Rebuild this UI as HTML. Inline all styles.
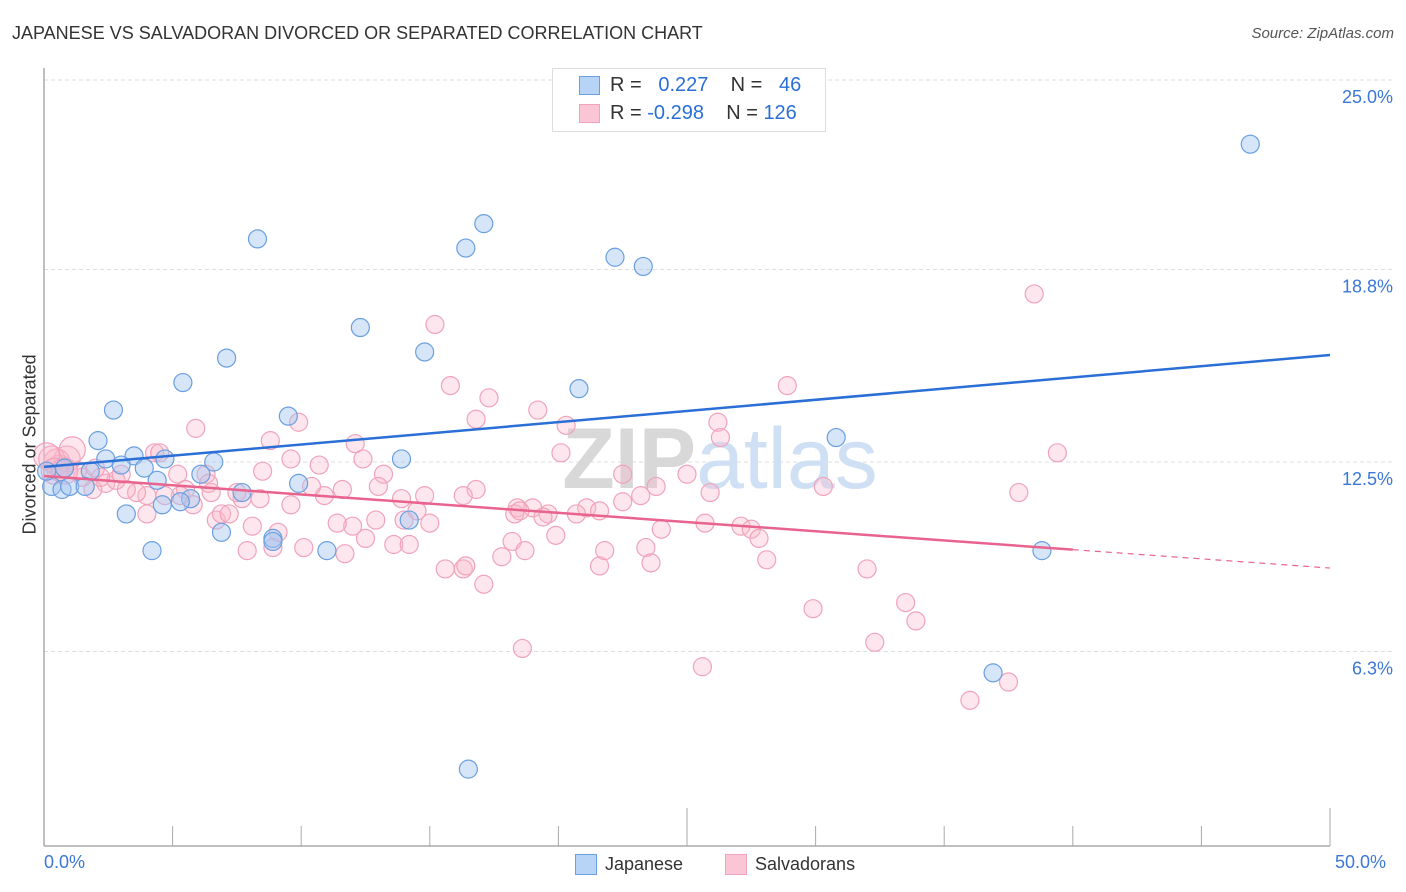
<!DOCTYPE html>
<html><head><meta charset="utf-8">
<style>
body{margin:0;background:#fff;font-family:"Liberation Sans",sans-serif;}
#wrap{position:relative;width:1406px;height:892px;overflow:hidden;}
.t{position:absolute;white-space:nowrap;}
</style></head>
<body>
<div id="wrap">
<div class="t" style="left:12px;top:23px;font-size:18px;color:#333;">JAPANESE VS SALVADORAN DIVORCED OR SEPARATED CORRELATION CHART</div>
<div class="t" style="right:12px;top:25px;font-size:15px;color:#555;font-style:italic;">Source: ZipAtlas.com</div>
<svg id="chart" width="1406" height="892" style="position:absolute;left:0;top:0"></svg>
</div>
<script>
const jpX=[8.3,16.4,17.1,22.2,23.3,46.9,12.3,14.8,7.1,5.4,20.8,2.7,9.5,2.1,30.8,3.5,4.7,2.4,13.9,6.6,3.0,3.9,6.1,0.8,1.8,4.4,0.3,0.7,1.0,1.6,9.9,7.7,5.7,5.3,4.6,3.2,14.2,6.9,8.9,8.9,11.0,4.2,38.8,36.9,16.5,0.1];
const jpY=[19.8,19.5,20.3,19.2,18.9,22.9,16.9,16.1,15.9,15.1,14.9,14.2,14.0,13.2,13.3,12.7,12.6,12.6,12.6,12.5,12.4,12.3,12.1,12.3,12.2,11.9,11.7,11.6,11.7,11.7,11.8,11.5,11.3,11.2,11.1,10.8,10.6,10.2,10.0,9.9,9.6,9.6,9.6,5.6,2.45,12.2];
const svX=[38.5,15.2,15.8,17.3,28.9,19.2,16.8,20.3,5.9,9.9,26.2,26.3,8.8,12.1,39.4,20.1,12.4,10.7,9.6,13.2,5.2,8.5,6.3,25.0,22.5,23.8,23.2,16.8,16.3,14.8,13.9,13.0,11.6,10.9,10.4,30.3,25.9,37.9,22.5,21.1,21.6,18.4,19.0,19.6,18.3,19.4,20.7,18.5,14.5,14.0,15.0,12.9,12.0,11.4,9.6,8.4,7.7,6.5,6.4,7.5,5.5,5.3,4.7,4.0,3.6,3.2,2.4,1.9,1.5,1.3,0.9,0.6,0.5,0.3,0.1,2.8,4.0,6.7,6.9,7.2,8.1,9.1,10.1,7.9,8.9,11.7,12.5,13.6,14.2,15.6,16.3,16.4,17.1,17.8,18.2,18.7,19.9,21.6,21.8,23.4,23.6,24.0,25.7,27.1,27.5,27.8,28.1,32.0,29.9,33.5,33.9,32.3,18.6,25.6,36.0,37.5,2.2,3.0,1.1,4.3,5.8,4.5,0.4,0.8,2.0];
const svY=[18.0,17.0,15.0,14.6,15.0,14.2,13.9,13.7,13.6,13.8,13.8,13.3,13.2,13.1,12.8,12.8,12.6,12.4,12.6,12.1,12.1,12.2,12.1,12.1,12.1,11.7,11.4,11.6,11.4,11.4,11.3,11.7,11.6,11.4,11.7,11.7,11.5,11.5,11.2,11.0,10.9,11.0,11.0,10.8,10.8,10.7,10.8,10.9,10.9,10.6,10.5,10.6,10.4,10.5,11.1,11.3,11.3,11.5,11.8,11.5,11.6,11.4,11.4,11.4,11.5,11.6,11.8,11.6,12.0,12.2,12.6,12.3,12.5,12.6,12.7,11.9,10.8,10.6,10.8,10.8,10.4,10.2,9.7,9.6,9.7,9.5,10.0,9.8,9.8,9.0,9.0,9.1,8.5,9.4,9.9,9.6,10.1,9.1,9.6,9.7,9.2,10.3,10.5,10.4,10.3,10.0,9.3,9.0,7.7,7.9,7.3,6.6,6.4,5.8,4.7,5.3,12.0,12.1,12.9,12.8,11.1,12.8,12.2,12.2,12.3];
const jpTrend=[12.34,16.0];
const svTrend=[12.04,9.03];
const svSolidEnd=40.0;
const yTicks=[25.0,18.8,12.5,6.3];
const yTickLabels=["25.0%","18.8%","12.5%","6.3%"];

const X0=44,X1=1330,YTOP=80,PXPER=30.56;
const sx=v=>X0+v/50*(X1-X0);
const sy=v=>YTOP+(25-v)*PXPER;
const NS="http://www.w3.org/2000/svg";
const svg=document.getElementById('chart');
function mk(tag,attrs){const e=document.createElementNS(NS,tag);for(const k in attrs)e.setAttribute(k,attrs[k]);svg.appendChild(e);return e;}

yTicks.forEach((t,i)=>{
 const g=mk('line',{x1:X0,x2:1395,y1:sy(t),y2:sy(t),stroke:'#ddd','stroke-dasharray':'4,3','stroke-width':1});
 
 
 const tx=mk('text',{x:1393,y:sy(t)+23,'text-anchor':'end','font-size':18,fill:'#3b78d8','font-family':'Liberation Sans, sans-serif'});
 tx.textContent=yTickLabels[i];
 
 
});
let a=mk('line',{x1:X0,x2:X0,y1:68,y2:846,stroke:'#aaa','stroke-width':1.5});


a=mk('line',{x1:X0,x2:1330,y1:846,y2:846,stroke:'#aaa','stroke-width':1.5});


for(let k=1;k<=10;k++){
 const x=X0+k*(X1-X0)/10;const tall=(k==5||k==10);
 const tk=mk('line',{x1:x,x2:x,y1:846,y2:tall?808:826,stroke:'#aaa','stroke-width':1});
 
 
}
const wm=mk('text',{x:720,y:488,'text-anchor':'middle','font-size':86,'font-family':'Liberation Sans, sans-serif'});
wm.innerHTML='<tspan fill="#d8d8d8" font-weight="bold">ZIP</tspan><tspan fill="#cfe0f5">atlas</tspan>';



svX.forEach((v,i)=>{
 const r=(v<1.2)?13:9;
 const c=mk('circle',{cx:sx(v),cy:sy(svY[i]),r:r,fill:'rgba(248,182,202,0.35)',stroke:'#f0a3bb','stroke-width':1.2});
 
 
});
jpX.forEach((v,i)=>{
 const c=mk('circle',{cx:sx(v),cy:sy(jpY[i]),r:9,fill:'rgba(164,198,240,0.45)',stroke:'#6a9fe0','stroke-width':1.2});
 
 
});
let l=mk('line',{x1:sx(0),y1:sy(jpTrend[0]),x2:sx(50),y2:sy(jpTrend[1]),stroke:'#2a6fd6','stroke-width':2.5});


const sv=x=>svTrend[0]+(svTrend[1]-svTrend[0])*x/50;
l=mk('line',{x1:sx(0),y1:sy(sv(0)),x2:sx(svSolidEnd),y2:sy(sv(svSolidEnd)),stroke:'#e8638d','stroke-width':2.5});


l=mk('line',{x1:sx(svSolidEnd),y1:sy(sv(svSolidEnd)),x2:sx(50),y2:sy(sv(50)),stroke:'#e8638d','stroke-width':1.2,'stroke-dasharray':'6,5'});


</script>
<div class="t" style="left:-50px;top:444px;width:160px;text-align:center;transform:rotate(-90deg);font-size:18px;color:#333;">Divorced or Separated</div>
<div class="t" style="left:44px;top:852px;font-size:18px;color:#3b78d8;">0.0%</div>
<div class="t" style="left:1335px;top:852px;font-size:18px;color:#3b78d8;">50.0%</div>
<div style="position:absolute;left:552px;top:68px;width:272px;height:62px;border:1px solid #ddd;background:#fff;">
 <div style="position:absolute;left:26px;top:7px;width:19px;height:17px;background:#b7d3f5;border:1px solid #6a9fe0;"></div>
 <div style="position:absolute;left:26px;top:35px;width:19px;height:17px;background:#fac5d5;border:1px solid #f0a3bb;"></div>
 <div class="t" style="left:57px;top:5px;font-size:20px;color:#333;">R = &nbsp;&nbsp;<span style="color:#2a6fd6">0.227</span>&nbsp;&nbsp;&nbsp; N = &nbsp;&nbsp;<span style="color:#2a6fd6">46</span></div>
 <div class="t" style="left:57px;top:33px;font-size:20px;color:#333;">R = <span style="color:#2a6fd6">-0.298</span>&nbsp;&nbsp;&nbsp; N = <span style="color:#2a6fd6">126</span></div>
</div>
<div style="position:absolute;left:575px;top:854px;">
 <div style="position:absolute;left:0;top:0;width:20px;height:19px;background:#b7d3f5;border:1px solid #6a9fe0;"></div>
 <div class="t" style="left:30px;top:0;font-size:18px;color:#333;">Japanese</div>
</div>
<div style="position:absolute;left:725px;top:854px;">
 <div style="position:absolute;left:0;top:0;width:20px;height:19px;background:#fac5d5;border:1px solid #f0a3bb;"></div>
 <div class="t" style="left:30px;top:0;font-size:18px;color:#333;">Salvadorans</div>
</div>
</body></html>
